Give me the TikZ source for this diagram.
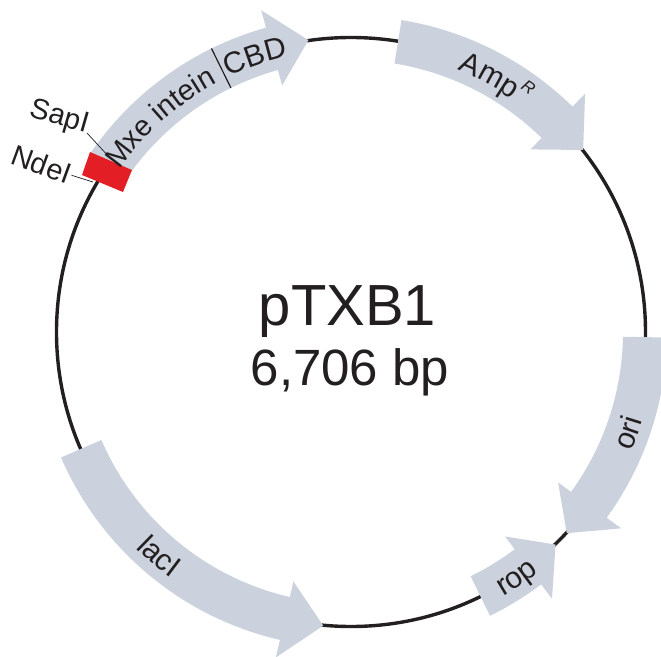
\documentclass[tikz,border=0pt]{standalone}
\usepackage{fontspec}
\setmainfont{Liberation Sans}
\usetikzlibrary{decorations.text}
\definecolor{gene}{RGB}{203,210,221}
\definecolor{ink}{RGB}{35,31,32}
\definecolor{site}{RGB}{227,30,36}
\newcommand\genefont{\fontsize{30}{30}\selectfont}
\newcommand\mxefont{\fontsize{29}{29}\selectfont}
\newcommand\genearrow[3]{%
  \fill[gene] (#1:316pt) arc[start angle=#1, end angle=#2, radius=316pt]
    -- (#2:334pt) -- (#3:295pt) -- (#2:256pt) -- (#2:272pt)
    arc[start angle=#2, end angle=#1, radius=272pt] -- cycle;}
\tikzset{
  leader/.style={ink, line width=0.7pt},
  sitelabel/.style={text=ink, font=\fontsize{29}{29}\selectfont, inner sep=1pt},
}
\begin{document}
\begin{tikzpicture}[x=1pt,y=1pt]
\useasboundingbox (-351,-324) rectangle (310,332);
\clip (-351,-324) rectangle (310,332);
% backbone
\draw[ink, line width=3.4pt] (0,0) circle[radius=294.5pt];
% genes
\genearrow{146}{105.6}{98.3}
\genearrow{80.8}{45.5}{38.1}
\genearrow{-1}{-36}{-43}
\genearrow{-63.9}{-53}{-46.1}
\genearrow{203.4}{257}{264.6}
% cloning site box
\fill[site] (-261,180) -- (-219,162) -- (-228,140) -- (-269,157) -- cycle;
% divider Mxe intein | CBD
\draw[ink, line width=1.2pt] (116.2:272pt) -- (116.2:316pt);
% gene labels
\path[decorate, decoration={text along path, text align=center,
  text={|\mxefont\color{ink}|Mxe intein}}]
  (164.6:283pt) arc[start angle=164.6, end angle=98.6, radius=283pt];
\path[decorate, decoration={text along path, text align=center,
  text={|\genefont\color{ink}|CBD}}]
  (129.2:283pt) arc[start angle=129.2, end angle=89.2, radius=283pt];
\path[decorate, decoration={text along path, text align=center,
  text={|\genefont\color{ink}|Amp}}]
  (81.6:283pt) arc[start angle=81.6, end angle=41.6, radius=283pt];
\node[rotate=-35.7, text=ink, font=\fontsize{17}{17}\selectfont\itshape, inner sep=0pt] (ampr) at (54.0:302pt) {R};
\path[decorate, decoration={text along path, text align=center,
  text={|\genefont\color{ink}|lacI}}]
  (209.5:305pt) arc[start angle=209.5, end angle=249.5, radius=305pt];
\path[decorate, decoration={text along path, text align=center,
  text={|\genefont\color{ink}|ori}}]
  (-40:305pt) arc[start angle=-40, end angle=0, radius=305pt];
\path[decorate, decoration={text along path, text align=center,
  text={|\genefont\color{ink}|rop}}]
  (-76:305pt) arc[start angle=-76, end angle=-36, radius=305pt];
% site labels
\node[sitelabel, anchor=base east, rotate=-16] (sapi) at (-264,199) {SapI};
\node[sitelabel, anchor=base east, rotate=-20] (ndei) at (-283,147) {NdeI};
\coordinate (sapiend) at (-241,174);
\coordinate (ndeiend) at (-258,150);
\draw[leader] (sapi.base east) -- (sapiend);
\draw[leader] (ndei.east) -- (ndeiend);
% title
\node[text=ink, font=\fontsize{58}{58}\selectfont, anchor=base] (title) at (-3.5,7) {pTXB1};
\node[text=ink, font=\fontsize{51}{51}\selectfont, anchor=base] (size) at (-1,-53) {6,706 bp};
\end{tikzpicture}
\end{document}
